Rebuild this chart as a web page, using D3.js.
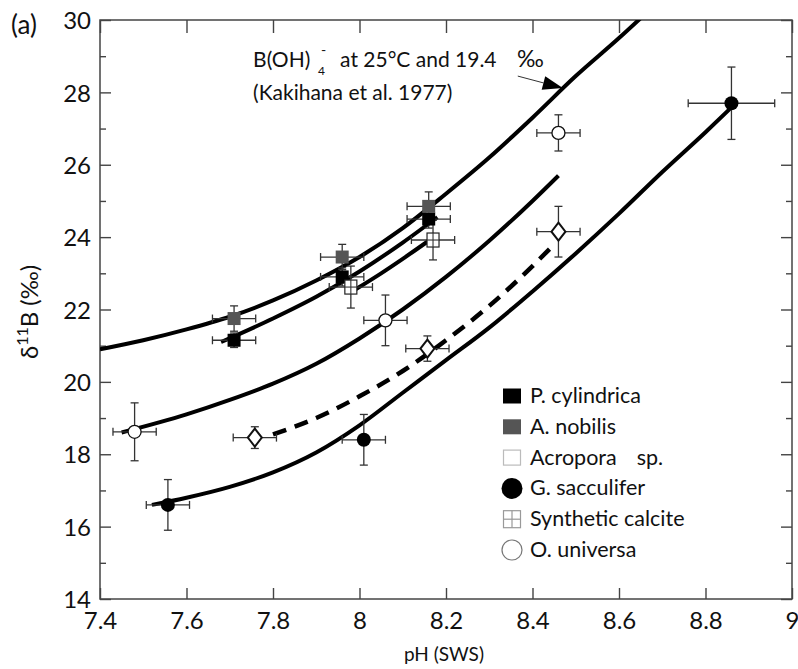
<!DOCTYPE html>
<html>
<head>
<meta charset="utf-8">
<script src="https://cdn.jsdelivr.net/npm/d3@7"></script>
<style>
  html, body { margin: 0; padding: 0; background: #fff; }
  svg { display: block; font-family: Lato, "Noto Sans", sans-serif; }
</style>
</head>
<body>
<svg id="chart" width="798" height="669"></svg>
<script>
// ---------- data ----------
const xTicks = [7.4, 7.6, 7.8, 8.0, 8.2, 8.4, 8.6, 8.8, 9.0];
const yTicks = [14, 16, 18, 20, 22, 24, 26, 28, 30];
const yMinorTicks = [15, 17, 19, 21, 23, 25, 27, 29];

// curves: [pH, d11B]
const curveKakihana = [[7.4,20.9],[7.5,21.15],[7.6,21.45],[7.7,21.8],[7.8,22.25],[7.9,22.8],[8.0,23.45],[8.1,24.25],[8.2,25.2],[8.3,26.2],[8.4,27.3],[8.5,28.45],[8.6,29.5],[8.65,30.05]];
const curvePcyl = [[7.68,21.1],[7.8,21.75],[7.9,22.35],[8.0,23.05],[8.1,23.85],[8.18,24.55]];
const curveAcropora = [[7.99,22.55],[8.05,23.0],[8.1,23.4],[8.16,23.9]];
const curveOuniversa = [[7.45,18.6],[7.6,19.1],[7.7,19.5],[7.8,19.95],[7.9,20.5],[8.0,21.2],[8.1,22.0],[8.2,22.9],[8.3,23.9],[8.4,25.0],[8.46,25.7]];
const curveSynthetic = [[7.8,18.55],[7.9,19.0],[8.0,19.6],[8.1,20.3],[8.2,21.15],[8.3,22.1],[8.4,23.2],[8.45,23.8]];
const curveGsacc = [[7.52,16.6],[7.6,16.8],[7.7,17.1],[7.8,17.5],[7.9,18.05],[8.0,18.8],[8.1,19.7],[8.2,20.6],[8.3,21.5],[8.4,22.5],[8.5,23.55],[8.6,24.65],[8.7,25.8],[8.8,26.9],[8.857,27.55]];

// points: pH, d11B, pH error, d11B error
const pCylindrica = [[7.71,21.15,0.05,0.2],[7.96,22.9,0.05,0.25],[8.16,24.5,0.05,0.25]];
const aNobilis    = [[7.71,21.75,0.05,0.35],[7.96,23.45,0.05,0.35],[8.16,24.85,0.05,0.4]];
const acropora    = [[7.98,22.62,0.05,0.58],[8.17,23.92,0.05,0.55]];
const gSacculifer = [[7.557,16.6,0.05,0.7],[8.01,18.4,0.05,0.7],[8.86,27.7,0.1,1.0]];
const synthetic   = [[7.758,18.46,0.05,0.3],[8.157,20.92,0.05,0.35],[8.46,24.15,0.05,0.7]];
const oUniversa   = [[7.48,18.62,0.05,0.8],[8.06,21.7,0.05,0.7],[8.46,26.88,0.05,0.5]];

const legendLabels = ["P. cylindrica", "A. nobilis", "Acropora", "G. sacculifer", "Synthetic calcite", "O. universa"];

// ---------- layout ----------
const svg = d3.select("#chart");
const L = 100, R = 792, T = 20, B = 599;
const x = d3.scaleLinear().domain([7.4, 9]).range([L, R]);
const y = d3.scaleLinear().domain([14, 30]).range([B, T]);
const axisColor = "#444";

svg.append("defs").append("clipPath").attr("id", "clip")
  .append("rect").attr("x", L).attr("y", T).attr("width", R - L).attr("height", B - T);

// axes
const fmt = d => String(+d.toFixed(1));
const gx = svg.append("g").attr("transform", `translate(0,${B})`)
  .call(d3.axisBottom(x).tickValues(xTicks).tickSize(-11).tickSizeOuter(0).tickPadding(13).tickFormat(fmt));
const gxt = svg.append("g").attr("transform", `translate(0,${T})`)
  .call(d3.axisTop(x).tickValues(xTicks).tickSize(-13).tickSizeOuter(0).tickFormat(""));
const gy = svg.append("g").attr("transform", `translate(${L},0)`)
  .call(d3.axisLeft(y).tickValues(yTicks).tickSize(-11).tickSizeOuter(0).tickPadding(9));
const gym = svg.append("g").attr("transform", `translate(${L},0)`)
  .call(d3.axisLeft(y).tickValues(yMinorTicks).tickSize(-6).tickSizeOuter(0).tickFormat(""));
const gyr = svg.append("g").attr("transform", `translate(${R},0)`)
  .call(d3.axisRight(y).tickValues(yTicks).tickSize(-11).tickSizeOuter(0).tickFormat(""));
const gyrm = svg.append("g").attr("transform", `translate(${R},0)`)
  .call(d3.axisRight(y).tickValues(yMinorTicks).tickSize(-6).tickSizeOuter(0).tickFormat(""));
[gx, gxt, gy, gym, gyr, gyrm].forEach(g => {
  g.select(".domain").remove();
  g.selectAll(".tick line").attr("stroke", axisColor).attr("stroke-width", 1.4);
  g.selectAll(".tick text").attr("fill", "#111").attr("font-size", 24).attr("font-family", "Lato, sans-serif");
});
gy.selectAll(".tick text").attr("dy", "0.36em");
svg.append("rect").attr("x", L).attr("y", T).attr("width", R - L).attr("height", B - T)
  .attr("fill", "none").attr("stroke", axisColor).attr("stroke-width", 1.5);

// axis titles
svg.append("text").attr("x", (L + R) / 2 - 2).attr("y", 661).attr("text-anchor", "middle")
  .attr("font-size", 19).attr("fill", "#111").text("pH (SWS)");
const yt = svg.append("text").attr("transform", "translate(38,312) rotate(-90)")
  .attr("text-anchor", "middle").attr("font-size", 24).attr("fill", "#111");
yt.append("tspan").text("δ");
yt.append("tspan").attr("font-size", 16).attr("dy", -10).text("11");
yt.append("tspan").attr("dy", 10).text("B (‰)");
svg.append("text").attr("x", 11).attr("y", 34).attr("font-size", 26).attr("fill", "#111").text("(a)");

// curves
const plot = svg.append("g").attr("clip-path", "url(#clip)");
const line = d3.line().x(d => x(d[0])).y(d => y(d[1])).curve(d3.curveMonotoneX);
[curveKakihana, curvePcyl, curveAcropora, curveOuniversa, curveGsacc].forEach(c => {
  plot.append("path").attr("d", line(c)).attr("fill", "none").attr("stroke", "#000").attr("stroke-width", 4);
});
plot.append("path").attr("d", line(curveSynthetic)).attr("fill", "none").attr("stroke", "#000")
  .attr("stroke-width", 4.5).attr("stroke-dasharray", "14,9");

// error bars
const ebColor = "#333";
function errorBars(data) {
  const g = svg.append("g").attr("stroke", ebColor).attr("stroke-width", 1.3).attr("fill", "none");
  data.forEach(d => {
    const cx = x(d[0]), cy = y(d[1]);
    const x0 = x(d[0] - d[2]), x1 = x(d[0] + d[2]);
    const y0 = y(d[1] - d[3]), y1 = y(d[1] + d[3]);
    g.append("line").attr("x1", x0).attr("x2", x1).attr("y1", cy).attr("y2", cy);
    g.append("line").attr("x1", x0).attr("x2", x0).attr("y1", cy - 4).attr("y2", cy + 4);
    g.append("line").attr("x1", x1).attr("x2", x1).attr("y1", cy - 4).attr("y2", cy + 4);
    g.append("line").attr("x1", cx).attr("x2", cx).attr("y1", y0).attr("y2", y1);
    g.append("line").attr("x1", cx - 4).attr("x2", cx + 4).attr("y1", y0).attr("y2", y0);
    g.append("line").attr("x1", cx - 4).attr("x2", cx + 4).attr("y1", y1).attr("y2", y1);
  });
}
[pCylindrica, aNobilis, gSacculifer, synthetic, oUniversa, acropora].forEach(errorBars);

// markers
const mk = svg.append("g");
mk.selectAll(".pc").data(pCylindrica).join("rect")
  .attr("x", d => x(d[0]) - 6.5).attr("y", d => y(d[1]) - 6.5).attr("width", 13).attr("height", 13).attr("fill", "#000");
mk.selectAll(".an").data(aNobilis).join("rect")
  .attr("x", d => x(d[0]) - 6.5).attr("y", d => y(d[1]) - 6.5).attr("width", 13).attr("height", 13).attr("fill", "#555");
mk.selectAll(".ac").data(acropora).join("rect")
  .attr("x", d => x(d[0]) - 6).attr("y", d => y(d[1]) - 7).attr("width", 12).attr("height", 14)
  .attr("fill", "#fff").attr("stroke", "#222").attr("stroke-width", 1.2);
mk.selectAll(".gs").data(gSacculifer).join("circle")
  .attr("cx", d => x(d[0])).attr("cy", d => y(d[1])).attr("r", 7).attr("fill", "#000");
mk.selectAll(".sy").data(synthetic).join("path")
  .attr("d", d => { const cx = x(d[0]), cy = y(d[1]); return `M${cx},${cy-9}L${cx+7},${cy}L${cx},${cy+9}L${cx-7},${cy}Z`; })
  .attr("fill", "#fff").attr("stroke", "#111").attr("stroke-width", 2);
mk.selectAll(".ou").data(oUniversa).join("circle")
  .attr("cx", d => x(d[0])).attr("cy", d => y(d[1])).attr("r", 6.5).attr("fill", "#fff").attr("stroke", "#111").attr("stroke-width", 1.3);
const acG = svg.append("g").attr("stroke", ebColor).attr("stroke-width", 1.1);
acropora.forEach(d => {
  acG.append("line").attr("x1", x(d[0]) - 6).attr("x2", x(d[0]) + 6).attr("y1", y(d[1])).attr("y2", y(d[1]));
  acG.append("line").attr("x1", x(d[0])).attr("x2", x(d[0])).attr("y1", y(d[1]) - 7).attr("y2", y(d[1]) + 7);
});

// annotation
const ax = x(7.754);
const annY = y(28.70);
const ann = svg.append("text").attr("y", annY).attr("font-size", 21).attr("fill", "#111");
ann.append("tspan").attr("x", ax).text("B(OH)");
ann.append("tspan").attr("x", ax + 65).attr("y", annY + 8).attr("font-size", 12).text("4");
ann.append("tspan").attr("x", ax + 68).attr("y", annY - 12).attr("font-size", 14).text("-");
ann.append("tspan").attr("x", ax + 87).attr("y", annY).text("at 25°C and 19.4");
ann.append("tspan").attr("x", ax + 264).attr("y", annY).attr("font-size", 23).text("‰");
svg.append("text").attr("x", ax).attr("y", y(27.78)).attr("font-size", 21).attr("fill", "#111")
  .text("(Kakihana et al. 1977)");
// arrow
const tail = [x(8.366), y(28.45)], tip = [x(8.47), y(28.12)];
const ang = Math.atan2(tip[1] - tail[1], tip[0] - tail[0]);
const hl = 20, hw = 7;
const bx = tip[0] - hl * Math.cos(ang), by = tip[1] - hl * Math.sin(ang);
svg.append("line").attr("x1", tail[0]).attr("y1", tail[1]).attr("x2", bx).attr("y2", by)
  .attr("stroke", "#333").attr("stroke-width", 1);
svg.append("path").attr("d",
  `M${tip[0]},${tip[1]}L${bx + hw * Math.sin(ang)},${by - hw * Math.cos(ang)}L${bx - hw * Math.sin(ang)},${by + hw * Math.cos(ang)}Z`)
  .attr("fill", "#000");

// legend
const lg = svg.append("g").attr("transform", "translate(512,396)");
const rowH = 30.8;
legendLabels.forEach((lab, i) => {
  const g = lg.append("g").attr("transform", `translate(0,${i * rowH})`);
  if (i === 0) g.append("rect").attr("x", -9).attr("y", -7.5).attr("width", 18).attr("height", 15).attr("fill", "#000");
  if (i === 1) g.append("rect").attr("x", -9).attr("y", -7.5).attr("width", 18).attr("height", 15).attr("fill", "#555");
  if (i === 2) g.append("rect").attr("x", -8.5).attr("y", -7.5).attr("width", 17).attr("height", 15).attr("fill", "#fff").attr("stroke", "#bbb").attr("stroke-width", 1.2);
  if (i === 3) g.append("circle").attr("r", 10.5).attr("fill", "#000");
  if (i === 4) {
    g.append("rect").attr("x", -8.5).attr("y", -8.5).attr("width", 17).attr("height", 17).attr("fill", "#fff").attr("stroke", "#999").attr("stroke-width", 1.2);
    g.append("line").attr("x1", 0).attr("x2", 0).attr("y1", -8.5).attr("y2", 8.5).attr("stroke", "#999").attr("stroke-width", 1.2);
    g.append("line").attr("x1", -8.5).attr("x2", 8.5).attr("y1", 0).attr("y2", 0).attr("stroke", "#999").attr("stroke-width", 1.2);
  }
  if (i === 5) g.append("circle").attr("r", 10).attr("fill", "#fff").attr("stroke", "#777").attr("stroke-width", 1.2);
  const t = g.append("text").attr("x", 18).attr("y", 7).attr("font-size", 21.5).attr("fill", "#111");
  t.append("tspan").text(lab);
  if (i === 2) t.append("tspan").attr("dx", 20).text("sp.");
});
</script>
</body>
</html>
